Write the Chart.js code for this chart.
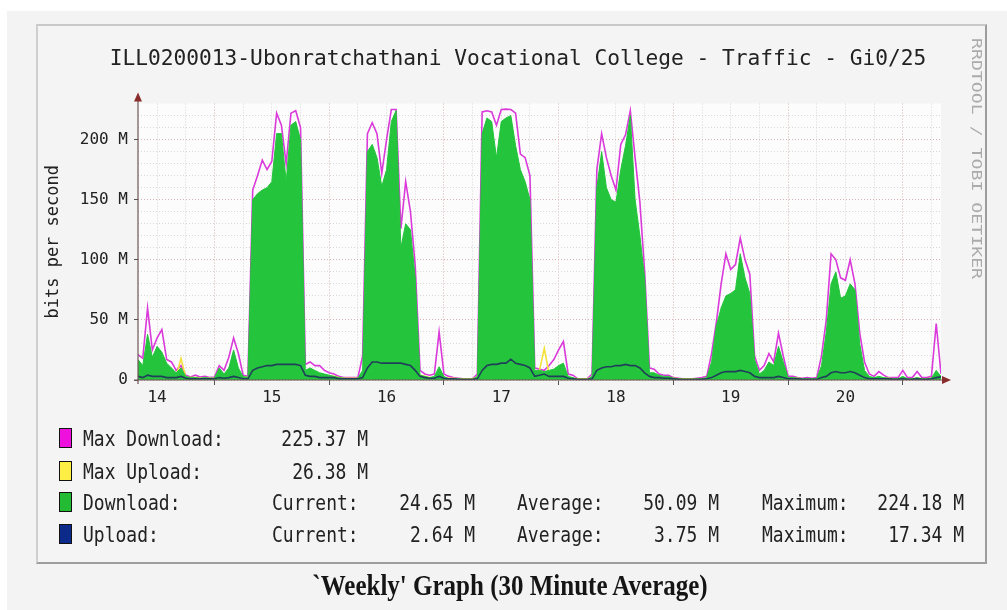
<!DOCTYPE html>
<html>
<head>
<meta charset="utf-8">
<script src="https://cdn.jsdelivr.net/npm/chart.js@4.4.1/dist/chart.umd.min.js"></script>
<style>
  html, body { margin:0; padding:0; width:1007px; height:610px; overflow:hidden; background:#ffffff; }
  #outer { position:absolute; left:7px; top:11px; width:1000px; height:599px; background:#f3f3f3; }
  #box { position:absolute; left:36px; top:24px; width:951px; height:540px; background:#f4f4f4;
         border-top:2px solid #c9c9c9; border-left:2px solid #cfcfcf; border-right:2px solid #9d9d9d; border-bottom:2px solid #9d9d9d; box-sizing:border-box; }
  #chart { position:absolute; left:0; top:0; }
  .lg { position:absolute; height:20px; line-height:20px; font-family:'DejaVu Sans Mono', monospace; font-size:18px; color:#222; white-space:pre; transform:scaleY(1.2); transform-origin:center center; }
  .sw { position:absolute; width:13px; height:20px; border:1px solid #111; box-sizing:border-box; }
  #caption { position:absolute; left:0; width:1020px; top:572px; text-align:center; font-family:'Liberation Serif', 'Times New Roman', serif; font-weight:bold; font-size:25px; line-height:26px; color:#151515; transform:scaleY(1.2); }
</style>
</head>
<body>
<div id="outer"></div>
<div id="box"></div>
<canvas id="chart" width="1007" height="610"></canvas>
<div id="legend"></div>
<div id="caption">`Weekly' Graph (30 Minute Average)</div>
<script>
// ---- data (hourly readings, starting 14th 08:00; values in Mbit/s) ----
const startHour = 8;
const dayLabels = ['14', '15', '16', '17', '18', '19', '20'];
const chartTitle = 'ILL0200013-Ubonratchathani Vocational College - Traffic - Gi0/25';

const download = [
  17,12,38,19,28,23,14,10,
  6,10,3,2,2,1.5,2,1.5,
  1.5,10,5,10,25,10,3,2,
  150,155,158,160,165,205,205,165,
  212,215,200,8,10,8,6,5,
  4,3,2,1.5,1,1,1.5,8,
  190,196,185,161,175,215,224.18,110,
  130,125,85,4,3,2,3,11,
  3,1,1,1,0.5,0.5,0.5,3,
  205,218,215,185,215,218,220,195,
  175,165,150,8,8,7,8,9,
  12,14,3,2,0.5,0.5,0.5,3,
  160,190,160,150,148,175,195,220,
  150,120,85,6,6,4,3,3,
  1.5,1,0.5,0.5,0.5,1,1,2,
  15,45,60,70,72,75,105,85,
  72,17,5,8,15,12,28,15,
  2,2,1.5,1,1,1,1,12,
  40,80,90,68,70,80,75,30,
  8,3,2,3,2,1.5,1,1,
  3,1,1,2,1,1,1.5,8,
  3
];
const maxDownload = [
  21,18,60,25,35,42,17,15,
  8,12,4,2.5,4,2.5,3,2,
  2.5,12,8,19,35,22,4,3,
  158,170,183,175,182,222,212,180,
  222,224,210,13,15,12,12,8,
  6,5,3,2,2,2,2,20,
  205,214,205,172,200,225,225,126,
  165,140,95,8,5,4,5,40,
  5,3,2,1.5,1,1,1,5,
  223,224,223,212,225,225.37,225,222,
  188,185,170,10,9,8,12,17,
  25,32,5,4,1,1,1,5,
  175,205,185,170,158,196,204,224,
  185,148,90,10,9,5,4,4,
  2,1.5,1,1,1,1.5,2,3,
  22,48,80,105,92,96,118,100,
  88,20,8,12,22,15,39,20,
  3,3,2,1.5,2,1.5,2,20,
  50,105,100,85,83,100,80,39,
  15,5,3,7,4,2,2,2,
  8,2,2,7,2,2,3,47,
  5
];
const upload = [
  3,2,4,3,3,3,2,2,
  2,3,1.5,1,1,1,1,1,
  1,2,1.5,2,3,2,1,1,
  8,10,11,12,12,13,13,13,
  13,13,12,4,3,3,2,2,
  2,2,1,1,1,1,1,2,
  10,15,15,14,14,14,14,14,
  13,12,8,3,2,1.5,1.5,3,
  1.5,1,1,0.5,0.5,0.5,0.5,1,
  8,12,13,13,14,14,17.3,14,
  13,12,10,3,4,5,3,3,
  3,3,1.5,1,0.5,0.5,0.5,1,
  8,10,11,11,12,12,13,12,
  12,10,6,3,2,2,1.5,1.5,
  1,0.5,0.5,0.5,0.5,0.5,0.5,1,
  2,4,6,7,7,7,8,7,
  6,3,2,2,2,2,3,2,
  1,1,1,0.5,0.5,0.5,0.5,2,
  3,6,7,6,6,7,6,4,
  2,1,1,1,1,1,0.5,0.5,
  1,0.5,0.5,1,0.5,0.5,1,2,
  2.64
];
const maxUpload = [
  4,3,6,4,5,5,3,3,
  3,18,2,2,2,1.5,1.5,1.5,
  1.5,3,2,3,5,3,2,2,
  10,12,13,14,14,15,15,15,
  15,15,14,5,4,4,3,3,
  3,3,2,1.5,1.5,1.5,1.5,3,
  12,17,17,16,16,16,16,16,
  15,14,10,4,3,2,2,4,
  2,1.5,1.5,1,1,1,1,2,
  10,14,15,15,16,16,19,16,
  15,14,12,4,8,26.38,5,4,
  4,4,2,1.5,1,1,1,2,
  10,12,13,13,14,14,15,14,
  14,12,8,4,3,3,2,2,
  1.5,1,1,1,1,1,1,1.5,
  3,5,7,8,8,8,9,8,
  7,4,3,3,3,3,4,3,
  1.5,1.5,1.5,1,1,1,1,3,
  4,7,8,7,7,8,7,5,
  3,2,1.5,1.5,1.5,1.5,1,1,
  1.5,1,1,1.5,1,1,1.5,3,
  3
];

// legend statistics
const legendNames = ['Max Download:', 'Max Upload:', 'Download:', 'Upload:'];
const legendColors = ['#ee11dd', '#ffee44', '#22bb33', '#0c2a8a'];
const statCurrent = [null, null, '24.65 M', '2.64 M'];
const statAverage = [null, null, '50.09 M', '3.75 M'];
const statMaximum = ['225.37 M', '26.38 M', '224.18 M', '17.34 M'];

// ---- build ----
const hours = download.map((_, i) => startHour + i);
const pts = arr => arr.map((v, i) => ({ x: hours[i], y: v }));
const xTickValues = [];
for (let h = 12; h <= 174; h += 6) xTickValues.push(h);
const yTickValues = [];
for (let v = 0; v <= 220; v += 10) yTickValues.push(v);

const decor = {
  id: 'decor',
  beforeDraw(chart) {
    const { ctx, chartArea: a } = chart;
    ctx.save();
    ctx.fillStyle = '#fcfcfc';
    ctx.fillRect(a.left, a.top, a.right - a.left, a.bottom - a.top);
    ctx.restore();
  },
  afterDatasetsDraw(chart) {
    const { ctx, chartArea: a } = chart;
    const y0 = chart.scales.y.getPixelForValue(0);
    const x0 = a.left;
    ctx.save();
    ctx.strokeStyle = '#6e5656';
    ctx.lineWidth = 1.2;
    ctx.beginPath();
    ctx.moveTo(x0, y0 + 4); ctx.lineTo(x0, a.top - 3);
    ctx.moveTo(x0 - 4, y0); ctx.lineTo(a.right + 3, y0);
    ctx.stroke();
    ctx.fillStyle = '#8a2c2c';
    ctx.beginPath();
    ctx.moveTo(x0, a.top - 11); ctx.lineTo(x0 - 4, a.top - 2); ctx.lineTo(x0 + 4, a.top - 2); ctx.closePath();
    ctx.fill();
    ctx.beginPath();
    ctx.moveTo(a.right + 10, y0); ctx.lineTo(a.right + 1, y0 - 4); ctx.lineTo(a.right + 1, y0 + 4); ctx.closePath();
    ctx.fill();
    ctx.restore();
  },
  afterDraw(chart) {
    const { ctx } = chart;
    ctx.save();
    ctx.translate(976, 38);
    ctx.rotate(Math.PI / 2);
    ctx.scale(1.3, 1);
    ctx.font = '14px "DejaVu Sans Mono", monospace';
    ctx.fillStyle = '#ababab';
    ctx.textBaseline = 'middle';
    ctx.fillText('RRDTOOL / TOBI OETIKER', 0, 0);
    ctx.restore();
  }
};

new Chart(document.getElementById('chart'), {
  type: 'line',
  data: {
    datasets: [
      { label: 'Max Download', data: pts(maxDownload), borderColor: '#d93ad9', borderWidth: 1.6, pointRadius: 0, fill: false, tension: 0, order: 4 },
      { label: 'Max Upload', data: pts(maxUpload), borderColor: '#f4e23a', borderWidth: 1.6, pointRadius: 0, fill: false, tension: 0, order: 3 },
      { label: 'Download', data: pts(download), borderColor: '#24c43c', backgroundColor: '#24c43c', borderWidth: 1, pointRadius: 0, fill: 'origin', tension: 0, order: 2 },
      { label: 'Upload', data: pts(upload), borderColor: '#20405a', borderWidth: 1.6, pointRadius: 0, fill: false, tension: 0, order: 1 }
    ]
  },
  options: {
    responsive: false,
    animation: false,
    devicePixelRatio: 1,
    layout: { padding: { left: 0, right: -29, top: 0, bottom: 0 } },
    plugins: {
      legend: { display: false },
      tooltip: { enabled: false },
      title: {
        display: true,
        text: chartTitle,
        color: '#222',
        font: { family: '"DejaVu Sans Mono", monospace', size: 21.2, weight: 'normal' },
        padding: { top: 47, bottom: 31.1 }
      }
    },
    scales: {
      x: {
        type: 'linear',
        min: startHour,
        max: startHour + download.length - 1,
        afterBuildTicks: s => { s.ticks = xTickValues.map(v => ({ value: v })); },
        afterFit: s => { s.height = 230; },
        border: { display: false, dash: [1, 2] },
        grid: {
          color: c => (c.tick && c.tick.value % 24 === 0) ? '#d9b3b3' : '#d6d6d6',
          lineWidth: 1,
          tickLength: 5,
          tickColor: c => (c.tick && c.tick.value % 24 === 0) ? '#555' : 'rgba(0,0,0,0)'
        },
        ticks: {
          autoSkip: false, maxRotation: 0, padding: 3,
          color: '#222',
          font: { family: '"DejaVu Sans Mono", monospace', size: 16 },
          callback: v => (v % 24 === 12) ? dayLabels[Math.floor(v / 24)] : ''
        }
      },
      y: {
        type: 'linear',
        position: 'left',
        min: 0,
        max: 230,
        afterBuildTicks: s => { s.ticks = yTickValues.map(v => ({ value: v })); },
        afterFit: s => { s.width = 138; },
        border: { display: false, dash: [1, 2] },
        grid: {
          color: c => (c.tick && c.tick.value % 50 === 0) ? '#d9b3b3' : '#d9d9d9',
          lineWidth: 1,
          tickLength: 4,
          tickColor: c => (c.tick && c.tick.value % 50 === 0) ? '#555' : 'rgba(0,0,0,0)'
        },
        ticks: {
          autoSkip: false, padding: 6,
          color: '#222',
          font: { family: '"DejaVu Sans Mono", monospace', size: 16 },
          callback: v => (v % 50 === 0) ? (v === 0 ? '0' : v + ' M') : ''
        },
        title: {
          display: true,
          text: 'bits per second',
          color: '#222',
          font: { family: '"DejaVu Sans Mono", monospace', size: 17 },
          padding: { top: 43, bottom: 0 }
        }
      },
      yRight: {
        type: 'linear',
        position: 'right',
        min: 0,
        max: 230,
        afterFit: s => { s.width = 95; },
        border: { display: false },
        grid: { display: false, drawTicks: false },
        ticks: { display: false }
      }
    }
  },
  plugins: [decor]
});

// ---- legend below the plot ----
const legend = document.getElementById('legend');
const rowCenters = [439, 472, 503, 535];
function addText(txt, left, right, cy) {
  const d = document.createElement('div');
  d.className = 'lg';
  d.textContent = txt;
  d.style.top = (cy - 10) + 'px';
  if (left !== null) d.style.left = left + 'px';
  else d.style.right = (1007 - right) + 'px';
  legend.appendChild(d);
}
legendNames.forEach((name, i) => {
  const cy = rowCenters[i];
  const sw = document.createElement('div');
  sw.className = 'sw';
  sw.style.left = '59px';
  sw.style.top = (cy - 11) + 'px';
  sw.style.background = legendColors[i];
  legend.appendChild(sw);
  addText(name, 83, null, cy);
  if (statCurrent[i] === null) {
    addText(statMaximum[i], null, 368, cy);
  } else {
    addText('Current:', 272, null, cy);
    addText(statCurrent[i], null, 475, cy);
    addText('Average:', 517, null, cy);
    addText(statAverage[i], null, 719, cy);
    addText('Maximum:', 762, null, cy);
    addText(statMaximum[i], null, 964, cy);
  }
});
</script>
</body>
</html>
